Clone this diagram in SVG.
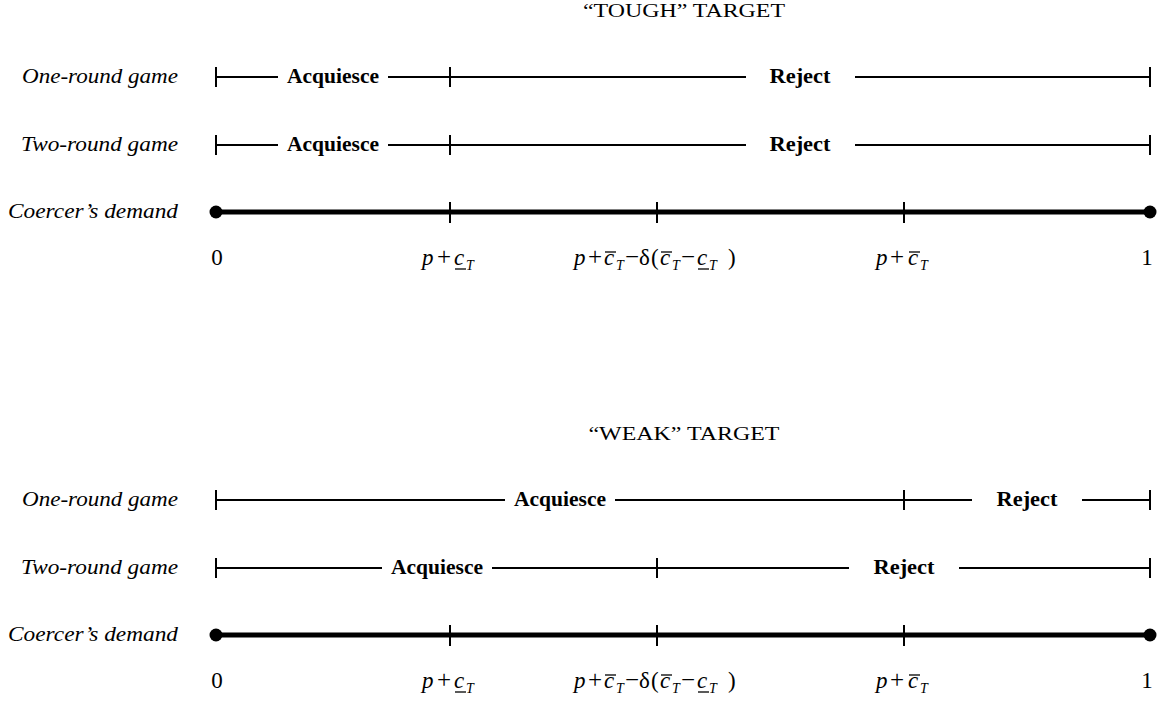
<svg xmlns="http://www.w3.org/2000/svg" width="1158" height="702" viewBox="0 0 1158 702">
<style>
  .bg{fill:#ffffff}
  .thin{stroke:#000;stroke-width:2;fill:none}
  .tick{stroke:#000;stroke-width:2}
  .axis{stroke:#000;stroke-width:5}
  .dot{fill:#000}
  .title{font-family:"Liberation Serif",serif;font-size:18.5px;fill:#000;text-anchor:middle}
  .rowlab{font-family:"Liberation Serif",serif;font-style:italic;font-size:21.5px;fill:#000;text-anchor:end}
  .seg{font-family:"Liberation Serif",serif;font-weight:bold;font-size:21px;fill:#000;text-anchor:middle}
  .m{font-family:"Liberation Serif",serif;font-size:23px;fill:#000}
  .i{font-style:italic}
  .op{font-size:25px}
  .sub{font-style:italic;font-size:14px}
  .bar{stroke:#000;stroke-width:1.3}
</style>
<defs>
  <g id="rowlabels">
    <text class="rowlab" x="178" y="83" textLength="156" lengthAdjust="spacingAndGlyphs">One-round game</text>
    <text class="rowlab" x="178" y="151" textLength="157" lengthAdjust="spacingAndGlyphs">Two-round game</text>
    <text class="rowlab" x="178" y="218" textLength="170" lengthAdjust="spacingAndGlyphs">Coercer’s demand</text>
  </g>
  <g id="axis">
    <line class="axis" x1="216" y1="212" x2="1150" y2="212"/>
    <line class="tick" x1="450" y1="202" x2="450" y2="223"/>
    <line class="tick" x1="657" y1="202" x2="657" y2="223"/>
    <line class="tick" x1="904" y1="202" x2="904" y2="223"/>
    <circle class="dot" cx="216" cy="212" r="6.5"/>
    <circle class="dot" cx="1150" cy="212" r="6.5"/>
  </g>
  <g id="mathlabels">
    <text class="m" x="217" y="265" text-anchor="middle">0</text>
    <text class="m" y="265"><tspan class="i" x="422">p</tspan><tspan class="op" x="437">+</tspan><tspan class="i" x="454">c</tspan><tspan class="sub" x="466" y="270">T</tspan></text>
    <line class="bar" x1="455" y1="269" x2="466" y2="269"/>
    <text class="m" y="265"><tspan class="i" x="574">p</tspan><tspan class="op" x="588">+</tspan><tspan class="i" x="604">c</tspan><tspan class="sub" x="616" y="270">T</tspan><tspan class="op" x="625" y="265">−</tspan><tspan x="639">δ</tspan><tspan x="651">(</tspan><tspan class="i" x="660">c</tspan><tspan class="sub" x="672" y="270">T</tspan><tspan class="op" x="681" y="265">−</tspan><tspan class="i" x="697">c</tspan><tspan class="sub" x="709" y="270">T</tspan><tspan x="728" y="265">)</tspan></text>
    <line class="bar" x1="605" y1="252" x2="616" y2="252"/>
    <line class="bar" x1="661" y1="252" x2="672" y2="252"/>
    <line class="bar" x1="698" y1="269" x2="709" y2="269"/>
    <text class="m" y="265"><tspan class="i" x="876">p</tspan><tspan class="op" x="890">+</tspan><tspan class="i" x="908">c</tspan><tspan class="sub" x="920" y="270">T</tspan></text>
    <line class="bar" x1="909" y1="252" x2="920" y2="252"/>
    <text class="m" x="1147" y="265" text-anchor="middle">1</text>
  </g>
</defs>
<rect class="bg" x="0" y="0" width="1158" height="702"/>

<g id="tough-panel">
  <g id="tough-title"><text class="title" x="684" y="17" textLength="202" lengthAdjust="spacingAndGlyphs">“TOUGH” TARGET</text></g>
  <g id="tough-rowlabels"><use href="#rowlabels"/></g>
  <g id="tough-one-round">
    <text class="seg" x="333" y="83" textLength="92" lengthAdjust="spacingAndGlyphs">Acquiesce</text>
    <text class="seg" x="800" y="83" textLength="61" lengthAdjust="spacingAndGlyphs">Reject</text>
  </g>
  <g id="tough-two-round">
    <text class="seg" x="333" y="151" textLength="92" lengthAdjust="spacingAndGlyphs">Acquiesce</text>
    <text class="seg" x="800" y="151" textLength="61" lengthAdjust="spacingAndGlyphs">Reject</text>
  </g>
  <g id="tough-demand"><use href="#axis"/><use href="#mathlabels"/></g>
  <g id="tough-connectors">
    <line class="thin" x1="216" y1="77" x2="278" y2="77"/>
    <line class="thin" x1="388" y1="77" x2="746" y2="77"/>
    <line class="thin" x1="855" y1="77" x2="1150" y2="77"/>
    <line class="tick" x1="216" y1="67" x2="216" y2="87"/>
    <line class="tick" x1="450" y1="67" x2="450" y2="87"/>
    <line class="tick" x1="1150" y1="67" x2="1150" y2="87"/>
    <line class="thin" x1="216" y1="145" x2="278" y2="145"/>
    <line class="thin" x1="388" y1="145" x2="746" y2="145"/>
    <line class="thin" x1="855" y1="145" x2="1150" y2="145"/>
    <line class="tick" x1="216" y1="135" x2="216" y2="155"/>
    <line class="tick" x1="450" y1="135" x2="450" y2="155"/>
    <line class="tick" x1="1150" y1="135" x2="1150" y2="155"/>
  </g>
</g>

<g id="weak-panel" transform="translate(0,423)">
  <g id="weak-title"><text class="title" x="684" y="17" textLength="191" lengthAdjust="spacingAndGlyphs">“WEAK” TARGET</text></g>
  <g id="weak-rowlabels"><use href="#rowlabels"/></g>
  <g id="weak-one-round">
    <text class="seg" x="560" y="83" textLength="92" lengthAdjust="spacingAndGlyphs">Acquiesce</text>
    <text class="seg" x="1027" y="83" textLength="61" lengthAdjust="spacingAndGlyphs">Reject</text>
  </g>
  <g id="weak-two-round">
    <text class="seg" x="437" y="151" textLength="92" lengthAdjust="spacingAndGlyphs">Acquiesce</text>
    <text class="seg" x="904" y="151" textLength="61" lengthAdjust="spacingAndGlyphs">Reject</text>
  </g>
  <g id="weak-demand"><use href="#axis"/><use href="#mathlabels"/></g>
  <g id="weak-connectors">
    <line class="thin" x1="216" y1="77" x2="505" y2="77"/>
    <line class="thin" x1="615" y1="77" x2="972" y2="77"/>
    <line class="thin" x1="1082" y1="77" x2="1150" y2="77"/>
    <line class="tick" x1="216" y1="67" x2="216" y2="87"/>
    <line class="tick" x1="904" y1="67" x2="904" y2="87"/>
    <line class="tick" x1="1150" y1="67" x2="1150" y2="87"/>
    <line class="thin" x1="216" y1="145" x2="382" y2="145"/>
    <line class="thin" x1="492" y1="145" x2="849" y2="145"/>
    <line class="thin" x1="959" y1="145" x2="1150" y2="145"/>
    <line class="tick" x1="216" y1="135" x2="216" y2="155"/>
    <line class="tick" x1="657" y1="135" x2="657" y2="155"/>
    <line class="tick" x1="1150" y1="135" x2="1150" y2="155"/>
  </g>
</g>
</svg>
